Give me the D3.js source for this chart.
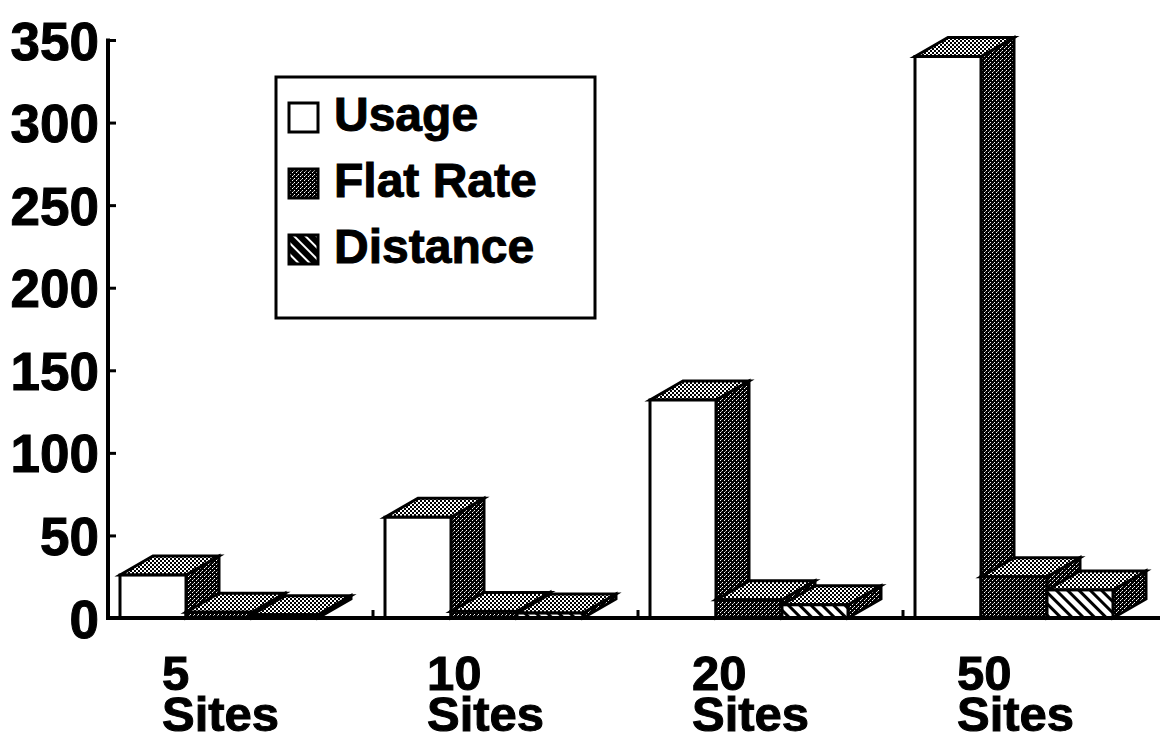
<!DOCTYPE html>
<html>
<head>
<meta charset="utf-8">
<script src="https://cdn.jsdelivr.net/npm/d3@7"></script>
<style>
  html, body { margin: 0; padding: 0; background: #fff; }
  svg { display: block; }
  text { font-family: "Liberation Sans", Arial, Helvetica, sans-serif; font-weight: bold; fill: #000; }
</style>
</head>
<body>
<svg id="chart" width="1163" height="742"></svg>
<script>
// ---- data ----
const categories = ["5", "10", "20", "50"];
const categoryLine2 = "Sites";
const seriesNames = ["Usage", "Flat Rate", "Distance"];
const usage = [26, 61, 132, 340];
const flatRate = [3.5, 4, 11, 25];
const distance = [2, 3, 8, 17];
const yTicks = [0, 50, 100, 150, 200, 250, 300, 350];

const seriesValues = [usage, flatRate, distance];

const svg = d3.select("#chart");
const defs = svg.append("defs");

// patterns
const light = defs.append("pattern").attr("id", "light").attr("patternUnits", "userSpaceOnUse")
  .attr("width", 4).attr("height", 4);
light.append("rect").attr("width", 4).attr("height", 4).attr("fill", "#fff");
light.append("rect").attr("x", 0).attr("y", 0).attr("width", 2).attr("height", 2).attr("fill", "#000");
light.append("rect").attr("x", 2).attr("y", 2).attr("width", 2).attr("height", 2).attr("fill", "#000");

const dark = defs.append("pattern").attr("id", "dark").attr("patternUnits", "userSpaceOnUse")
  .attr("width", 4).attr("height", 4);
dark.append("rect").attr("width", 4).attr("height", 4).attr("fill", "#000");
dark.append("rect").attr("x", 0).attr("y", 0).attr("width", 1).attr("height", 1).attr("fill", "#fff");
dark.append("rect").attr("x", 2).attr("y", 2).attr("width", 1).attr("height", 1).attr("fill", "#fff");
dark.append("rect").attr("x", 1).attr("y", 3).attr("width", 1).attr("height", 1).attr("fill", "#999");

const hatch = defs.append("pattern").attr("id", "hatch").attr("patternUnits", "userSpaceOnUse")
  .attr("width", 8).attr("height", 8).attr("patternTransform", "rotate(-45)");
hatch.append("rect").attr("width", 8).attr("height", 8).attr("fill", "#fff");
hatch.append("rect").attr("x", 0).attr("y", 0).attr("width", 3).attr("height", 8).attr("fill", "#000");

const hatchInv = defs.append("pattern").attr("id", "hatchInv").attr("patternUnits", "userSpaceOnUse")
  .attr("width", 8).attr("height", 8).attr("patternTransform", "rotate(-45)");
hatchInv.append("rect").attr("width", 8).attr("height", 8).attr("fill", "#000");
hatchInv.append("rect").attr("x", 0).attr("y", 0).attr("width", 2).attr("height", 8).attr("fill", "#fff");

const frontFill = ["#fff", "url(#dark)", "url(#hatch)"];
const legendFill = ["#fff", "url(#dark)", "url(#hatchInv)"];

// scales
const x = d3.scaleBand().domain(categories).range([108, 1168]).paddingInner(0).paddingOuter(0);
const inner = d3.scaleBand().domain(seriesNames).range([12, 12 + 3 * 66]).padding(0);
const y = d3.scaleLinear().domain([0, 350]).range([618, 40]);
const DX = 33, DY = 19;

// bars
const g = svg.append("g");
categories.forEach((c, ci) => {
  seriesNames.forEach((s, si) => {
    const v = seriesValues[si][ci];
    const x0 = x(c) + inner(s);
    const w = inner.bandwidth();
    const yv = y(v), y0 = y(0);
    const bar = g.append("g").attr("stroke", "#000").attr("stroke-width", 3).attr("stroke-linejoin", "miter");
    bar.append("path")
      .attr("d", d3.line()([[x0 + w, yv], [x0 + w + DX, yv - DY], [x0 + w + DX, y0 - DY], [x0 + w, y0]]) + "Z")
      .attr("fill", "url(#dark)");
    bar.append("path")
      .attr("d", d3.line()([[x0, yv], [x0 + DX, yv - DY], [x0 + w + DX, yv - DY], [x0 + w, yv]]) + "Z")
      .attr("fill", "url(#light)");
    bar.append("rect")
      .attr("x", x0).attr("y", yv).attr("width", w).attr("height", Math.max(0, y0 - yv))
      .attr("fill", frontFill[si]);
  });
});

// y axis
const yAxis = d3.axisLeft(y).tickValues(yTicks).tickSizeInner(-8).tickSizeOuter(0).tickPadding(9);
const ya = svg.append("g").attr("transform", "translate(108,0)").call(yAxis);
ya.select(".domain").remove();
ya.selectAll(".tick line").attr("stroke", "#000").attr("stroke-width", 3);
ya.selectAll(".tick text").attr("font-size", 53).attr("dy", "0.36em")
  .style("font-family", "'Liberation Sans', Arial, sans-serif").style("font-weight", "bold")
  .attr("fill", "#000").attr("stroke", "#000").attr("stroke-width", 1);
svg.append("line").attr("x1", 108).attr("x2", 108).attr("y1", y(350) - 1.5).attr("y2", y(0) + 1.5)
  .attr("stroke", "#000").attr("stroke-width", 4);

// x axis
svg.append("line").attr("x1", 106).attr("x2", 1160).attr("y1", y(0)).attr("y2", y(0))
  .attr("stroke", "#000").attr("stroke-width", 4);
svg.append("g").selectAll("line").data(categories.slice(1)).join("line")
  .attr("x1", d => x(d)).attr("x2", d => x(d))
  .attr("y1", y(0)).attr("y2", y(0) - 8)
  .attr("stroke", "#000").attr("stroke-width", 3);

const xl = svg.append("g").selectAll("text").data(categories).join("text")
  .attr("font-size", 49).attr("stroke", "#000").attr("stroke-width", 1);
xl.append("tspan").attr("x", d => x(d) + 54).attr("y", 690).text(d => d);
xl.append("tspan").attr("x", d => x(d) + 54).attr("y", 731).text(categoryLine2);

// legend
const lg = svg.append("g");
lg.append("rect").attr("x", 276).attr("y", 77).attr("width", 319).attr("height", 241)
  .attr("fill", "#fff").attr("stroke", "#000").attr("stroke-width", 3);
const rowY = d3.scalePoint().domain(seriesNames).range([131, 263]);
seriesNames.forEach((s, i) => {
  lg.append("rect").attr("x", 289).attr("y", rowY(s) - 28).attr("width", 29).attr("height", 29)
    .attr("fill", legendFill[i]).attr("stroke", "#000").attr("stroke-width", 3);
  lg.append("text").attr("x", 334).attr("y", rowY(s)).attr("font-size", 48)
    .attr("stroke", "#000").attr("stroke-width", 1).text(s);
});
</script>
</body>
</html>
